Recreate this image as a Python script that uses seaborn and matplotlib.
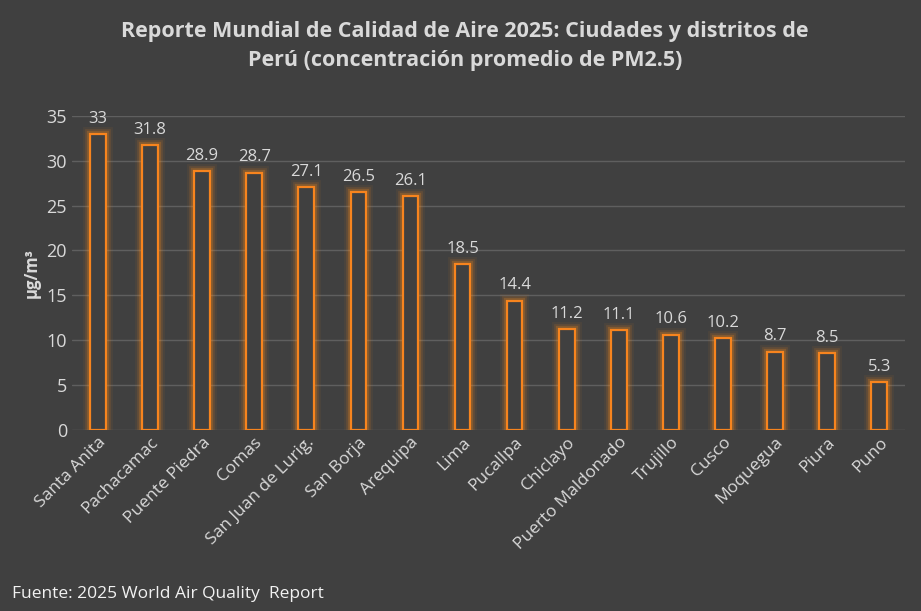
import matplotlib
matplotlib.use("Agg")
import matplotlib.pyplot as plt
import seaborn as sns
import pandas as pd

ciudades = ["Santa Anita", "Pachacamac", "Puente Piedra", "Comas", "San Juan de Lurig.",
            "San Borja", "Arequipa", "Lima", "Pucallpa", "Chiclayo", "Puerto Maldonado",
            "Trujillo", "Cusco", "Moquegua", "Piura", "Puno"]
valores = [33, 31.8, 28.9, 28.7, 27.1, 26.5, 26.1, 18.5, 14.4, 11.2, 11.1, 10.6, 10.2, 8.7, 8.5, 5.3]
etiquetas = ["33", "31.8", "28.9", "28.7", "27.1", "26.5", "26.1", "18.5", "14.4",
             "11.2", "11.1", "10.6", "10.2", "8.7", "8.5", "5.3"]

df = pd.DataFrame({"ciudad": ciudades, "valor": valores})

bg = "#404040"
txt = "#d9d9d9"
sns.set_theme(style="white")
plt.rcParams["font.family"] = ["Open Sans", "DejaVu Sans"]

fig = plt.figure(figsize=(9.21, 6.11), dpi=100, facecolor=bg)
ax = fig.add_axes([0.078, 0.297, 0.905, 0.513], facecolor=bg)

# glow layers
for lw, a in [(10, 0.06), (7, 0.12), (4.5, 0.22)]:
    sns.barplot(data=df, x="ciudad", y="valor", ax=ax, width=0.3, fill=False,
                edgecolor="#ff8c1a", linewidth=lw, alpha=a, errorbar=None)
sns.barplot(data=df, x="ciudad", y="valor", ax=ax, width=0.3, color=bg,
            edgecolor="#f7841e", linewidth=1.6, errorbar=None)

for i, (v, t) in enumerate(zip(valores, etiquetas)):
    ax.text(i, v + 0.8, t, ha="center", va="bottom", color=txt, fontsize=12)

ax.set_ylim(0, 35)
ax.set_yticks(range(0, 36, 5))
ax.yaxis.grid(True, color="#5f5f5f", linewidth=1)
ax.set_axisbelow(True)
for s in ax.spines.values():
    s.set_visible(False)
ax.tick_params(axis="y", colors=txt, labelsize=13, length=0)
ax.tick_params(axis="x", colors=txt, labelsize=12.5, length=0)
plt.setp(ax.get_xticklabels(), rotation=45, ha="right", rotation_mode="anchor")
ax.set_xlabel("")
ax.set_ylabel("µg/m³", color=txt, fontsize=12, fontweight="bold")
ax.set_xlim(-0.5, len(ciudades) - 0.5)

fig.text(0.505, 0.925, "Reporte Mundial de Calidad de Aire 2025: Ciudades y distritos de\nPerú (concentración promedio de PM2.5)",
         ha="center", va="center", color=txt, fontsize=15.5, fontweight="bold", linespacing=1.5)
fig.text(0.013, 0.022, "Fuente: 2025 World Air Quality  Report", color="#f2f2f2", fontsize=12.5)

fig.savefig("out.png", dpi=100, facecolor=bg)
